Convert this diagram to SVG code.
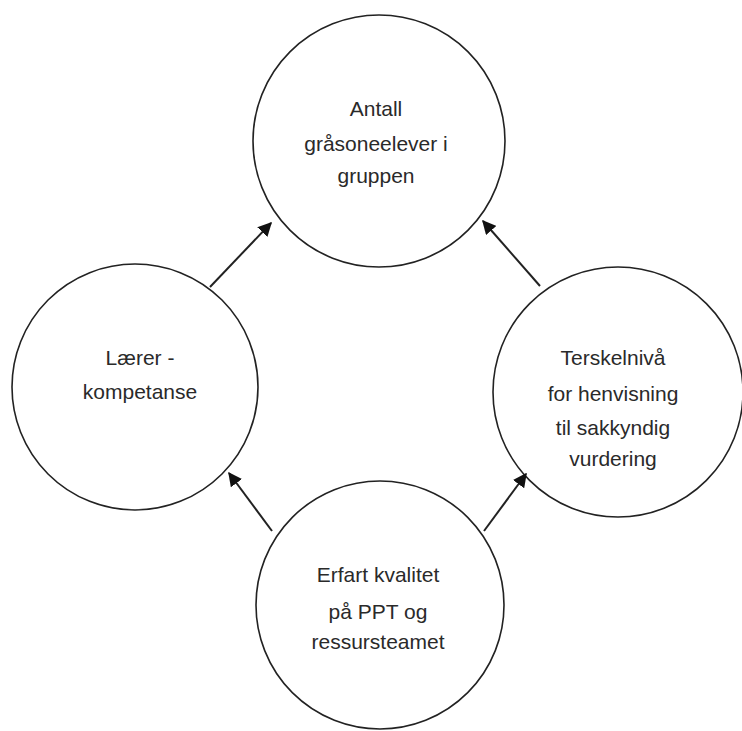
<svg xmlns="http://www.w3.org/2000/svg" width="742" height="731" viewBox="0 0 742 731">
<style>
.node{fill:#fff;stroke:#222;stroke-width:1.6}
.lbl{font-family:"Liberation Sans","DejaVu Sans",sans-serif;font-size:21px;fill:#2a2a2a;text-anchor:middle}
.conn{stroke:#222;stroke-width:2;fill:none;marker-end:url(#ah)}
</style>
<defs>
<marker id="ah" viewBox="0 0 10 10" refX="9" refY="5" markerWidth="7" markerHeight="7" markerUnits="strokeWidth" orient="auto">
<path d="M0,0 L10,5 L0,10 z" fill="#111"/>
</marker>
</defs>
<rect width="742" height="731" fill="#fff"/>
<g id="n-top">
<circle class="node" cx="379" cy="141" r="126"/>
<text class="lbl" x="376" y="116">Antall</text>
<text class="lbl" x="376" y="151">gråsoneelever i</text>
<text class="lbl" x="376" y="183">gruppen</text>
</g>
<g id="n-left">
<circle class="node" cx="135" cy="387" r="123"/>
<text class="lbl" x="140" y="365">Lærer -</text>
<text class="lbl" x="140" y="399">kompetanse</text>
</g>
<g id="n-right">
<circle class="node" cx="618" cy="392" r="125"/>
<text class="lbl" x="613" y="365">Terskelnivå</text>
<text class="lbl" x="613" y="401">for henvisning</text>
<text class="lbl" x="613" y="435">til sakkyndig</text>
<text class="lbl" x="613" y="466">vurdering</text>
</g>
<g id="n-bottom">
<circle class="node" cx="380" cy="605" r="124"/>
<text class="lbl" x="378" y="582">Erfart kvalitet</text>
<text class="lbl" x="378" y="619">på PPT og</text>
<text class="lbl" x="378" y="649">ressursteamet</text>
</g>
<g id="connectors">
<line class="conn" x1="210" y1="287" x2="271" y2="223"/>
<line class="conn" x1="540" y1="286" x2="483" y2="221"/>
<line class="conn" x1="272" y1="531" x2="229" y2="473"/>
<line class="conn" x1="484" y1="531" x2="526" y2="474"/>
</g>
</svg>
